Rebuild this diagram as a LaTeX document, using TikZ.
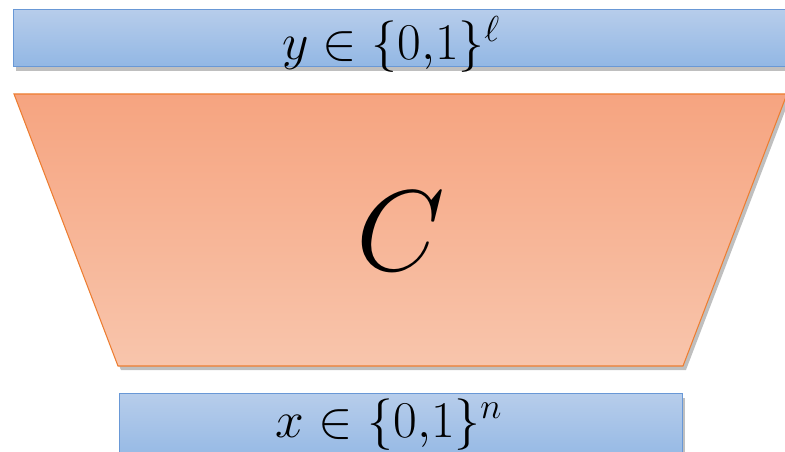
\RequirePackage{fix-cm}
\documentclass[tikz,border=0pt]{standalone}
\usepackage{amsmath, amssymb}
\usepackage{xcolor}
\usetikzlibrary{shadows, positioning}

\definecolor{barTop}{RGB}{183,205,235}
\definecolor{barBot}{RGB}{146,183,228}
\definecolor{barLine}{RGB}{105,152,214}
\definecolor{gateTop}{RGB}{246,164,128}
\definecolor{gateBot}{RGB}{248,197,172}
\definecolor{gateLine}{RGB}{237,125,49}

\begin{document}
\begin{tikzpicture}[
        x=0.03cm, y=-0.03cm,
        bar/.style={
            draw=barLine,
            line width=0.9pt,
            top color=barTop,
            bottom color=barBot,
            rectangle,
            inner sep=0pt,
            drop shadow={opacity=0.5, shadow xshift=2.5pt, shadow yshift=-3.5pt}
        },
        gate/.style={
            draw=gateLine,
            line width=0.9pt,
            top color=gateTop,
            bottom color=gateBot,
            drop shadow={opacity=0.5, shadow xshift=2.5pt, shadow yshift=-3.5pt}
        },
        lbl/.style={
            inner sep=0pt,
            anchor=base,
            font=\fontsize{44}{50}\selectfont
        }
    ]

        \useasboundingbox (0,0) rectangle (785,452);

        % output and input bars
        \node[bar, minimum width=23.4cm, minimum height=1.71cm, anchor=north west] (outbar) at (13,9) {};
        \node[bar, minimum width=16.89cm, minimum height=2.1cm, anchor=north west] (inbar) at (119,393) {};

        % the circuit
        \path[gate] (14,94) coordinate (gtl) -- (787,94) coordinate (gtr)
            -- (683,366) coordinate (gbr) -- (118,366) coordinate (gbl) -- cycle;

        \node[lbl] (outlbl) at (391,60) {$y \in \{0{,}1\}^{\ell}$};
        \node[lbl] (inlbl) at (389,437) {$x \in \{0{,}1\}^{n}$};
        \node[lbl, font=\fontsize{98}{110}\selectfont] (circ) at (401,270) {$C$};

    \end{tikzpicture}
\end{document}
